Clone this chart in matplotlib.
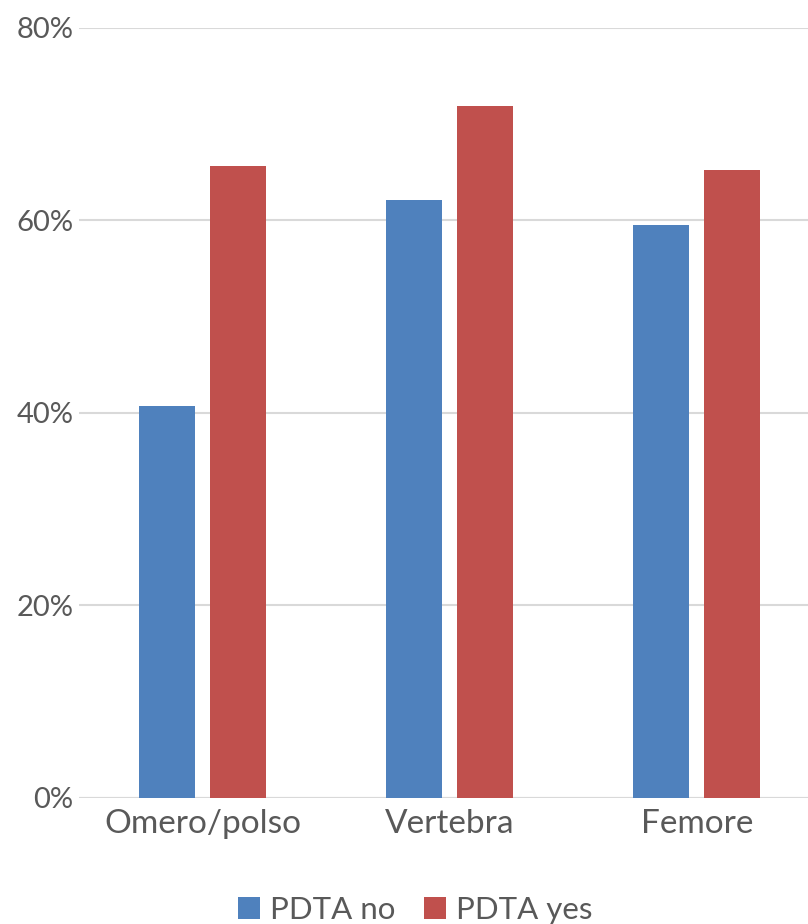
import matplotlib
matplotlib.use("Agg")
import matplotlib.pyplot as plt
import numpy as np
from matplotlib.ticker import PercentFormatter

categories = ["Omero/polso", "Vertebra", "Femore"]
pdta_no = [40.7, 62.1, 59.5]
pdta_yes = [65.6, 71.9, 65.2]
series_labels = ["PDTA no", "PDTA yes"]
y_ticks = [0, 20, 40, 60, 80]

blue = "#4F81BD"
red = "#C0504D"
text_col = "#595959"
grid_col = "#D9D9D9"

plt.rcParams["font.family"] = ["Lato", "DejaVu Sans"]

W, H = 808, 924
fig = plt.figure(figsize=(W / 100, H / 100), dpi=100)
left_px, right_px, bottom_px, top_px = 79, 820.5, 798, 27.7
ax = fig.add_axes([left_px / W, 1 - bottom_px / H,
                   (right_px - left_px) / W, (bottom_px - top_px) / H])

x = np.arange(len(categories))
bw = 0.227
off = 0.1437
ax.bar(x - off, pdta_no, bw, color=blue, label=series_labels[0], zorder=3)
ax.bar(x + off, pdta_yes, bw, color=red, label=series_labels[1], zorder=3)

ax.set_xlim(-0.5, len(categories) - 0.5)
ax.set_ylim(0, 80)
ax.set_yticks(y_ticks)
ax.yaxis.set_major_formatter(PercentFormatter(decimals=0))
ax.grid(axis="y", color=grid_col, linewidth=1.5, zorder=0)
ax.set_xticks(x)
ax.set_xticklabels(categories)
for s in ax.spines.values():
    s.set_visible(False)
ax.axhline(0, color=grid_col, linewidth=1.5, zorder=1)
ax.tick_params(axis="y", length=0, pad=3.8, labelsize=21, labelcolor=text_col)
ax.tick_params(axis="x", length=0, pad=8, labelsize=24, labelcolor=text_col)

fig.legend(loc="center", bbox_to_anchor=(0.514, 1 - 910 / H), ncol=2, frameon=False,
           borderpad=0, fontsize=22.5, labelcolor=text_col, handlelength=0.7,
           handleheight=0.7, handletextpad=0.33, columnspacing=0.9)

fig.savefig("out.png", dpi=100)
